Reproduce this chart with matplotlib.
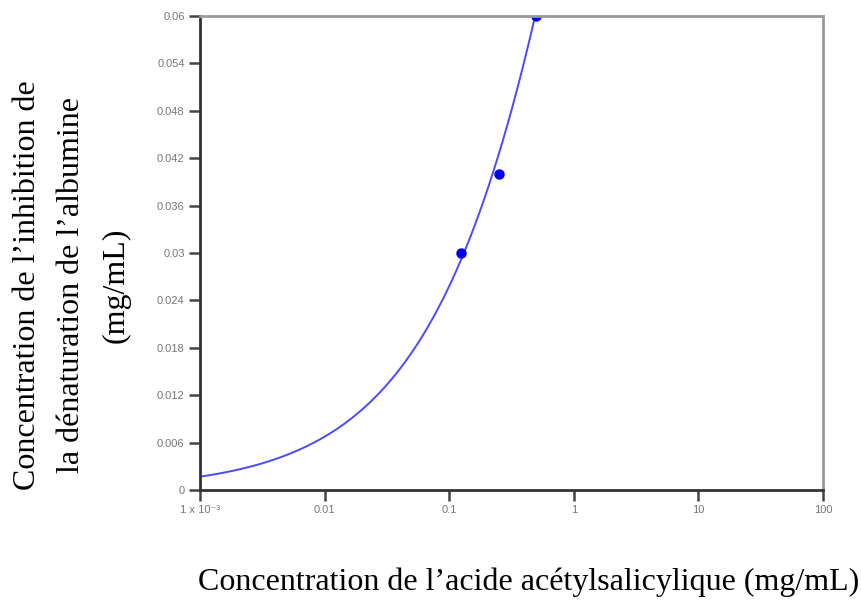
import numpy as np
import matplotlib.pyplot as plt
from matplotlib.ticker import FixedLocator, FixedFormatter, NullLocator

# Measured points: aspirin concentration vs. inhibition of albumin denaturation
aspirin_conc = [0.125, 0.25, 0.5]      # mg/mL
inhibition = [0.030, 0.040, 0.060]     # mg/mL

# Hill-type fit y = fit_top * x^n / (fit_ec50^n + x^n)
fit_top = 0.3165
fit_ec50 = 5.3
fit_n = 0.61

x_ticks = [1e-3, 0.01, 0.1, 1, 10, 100]
x_tick_labels = ["1 x 10⁻³", "0.01", "0.1", "1", "10", "100"]
y_ticks = [0, 0.006, 0.012, 0.018, 0.024, 0.03, 0.036, 0.042, 0.048, 0.054, 0.06]
y_tick_labels = ["0", "0.006", "0.012", "0.018", "0.024", "0.03", "0.036",
                 "0.042", "0.048", "0.054", "0.06"]

fig = plt.figure(figsize=(8.61, 6.05), dpi=100)
ax = fig.add_axes([200 / 861, 1 - 490 / 605, 623 / 861, 474 / 605])

xs = np.logspace(-3, 2, 400)
ys = fit_top * xs ** fit_n / (fit_ec50 ** fit_n + xs ** fit_n)
ax.plot(xs, ys, color="#4a4aff", lw=1.4)
ax.plot(aspirin_conc, inhibition, "o", color="#0000ee", ms=6.5)

ax.set_xscale("log")
ax.set_xlim(1e-3, 100)
ax.set_ylim(0, 0.06)
ax.xaxis.set_major_locator(FixedLocator(x_ticks))
ax.xaxis.set_major_formatter(FixedFormatter(x_tick_labels))
ax.xaxis.set_minor_locator(NullLocator())
ax.yaxis.set_major_locator(FixedLocator(y_ticks))
ax.yaxis.set_major_formatter(FixedFormatter(y_tick_labels))

for side in ["left", "bottom"]:
    ax.spines[side].set_color("#333333")
    ax.spines[side].set_linewidth(2)
for side in ["top", "right"]:
    ax.spines[side].set_color("#999999")
    ax.spines[side].set_linewidth(2)

ax.tick_params(direction="out", length=8, width=1.8, color="#444444",
               labelsize=8, labelcolor="#777777", pad=3)
for lbl in ax.get_xticklabels() + ax.get_yticklabels():
    lbl.set_family(["Liberation Sans", "DejaVu Sans"])

fig.text(529 / 861, 1 - 582 / 605,
         "Concentration de l’acide acétylsalicylique (mg/mL)",
         ha="center", va="center", family="Liberation Serif", fontsize=23)
fig.text(72 / 861, 1 - 285 / 605,
         "Concentration de l’inhibition de\nla dénaturation de l’albumine\n(mg/mL)",
         ha="center", va="center", rotation=90, family="Liberation Serif",
         fontsize=23, linespacing=1.7, multialignment="center")

fig.savefig("out.png", dpi=100)
